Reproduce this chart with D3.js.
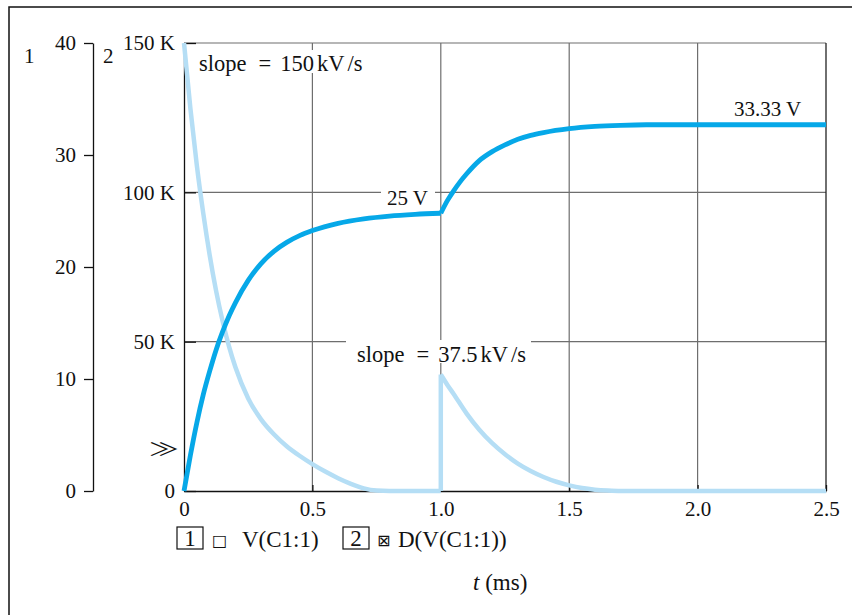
<!DOCTYPE html>
<html>
<head>
<meta charset="utf-8">
<script src="https://cdn.jsdelivr.net/npm/d3@7"></script>
<style>
  body { margin: 0; background: #fff; }
  svg { display: block; }
  text { font-family: "Liberation Serif", "Times New Roman", serif; fill: #111; }
</style>
</head>
<body>
<div id="chart"></div>
<script>
// time axis (ms) and tick labels
var timeTicks = [0, 0.5, 1.0, 1.5, 2.0, 2.5];
var timeLabels = ['0', '0.5', '1.0', '1.5', '2.0', '2.5'];

// axis 1 : V(C1:1), volts
var voltTicks = [0, 10, 20, 30, 40];
// axis 2 : D(V(C1:1)), kV/s
var slopeTicks = [0, 50, 100, 150];
var slopeLabels = ['0', '50 K', '100 K', '150 K'];

// V(C1:1) - charging up to 25 V, then to 33.33 V after the 1 ms step
var vTime1 = [0, 0.025, 0.05, 0.075, 0.1, 0.125, 0.15, 0.175, 0.2, 0.25, 0.3, 0.35, 0.4, 0.45, 0.5, 0.6, 0.7, 0.8, 0.9, 1.0];
var vVolts1 = [0, 3.2, 6.1, 8.6, 10.7, 12.6, 14.2, 15.6, 16.8, 18.8, 20.3, 21.4, 22.2, 22.8, 23.25, 23.9, 24.3, 24.55, 24.7, 24.8];
var vTime2 = [1.0, 1.025, 1.05, 1.075, 1.1, 1.15, 1.2, 1.25, 1.3, 1.35, 1.4, 1.5, 1.6, 1.7, 1.8, 2.0, 2.5];
var vVolts2 = [24.8, 25.9, 26.8, 27.6, 28.3, 29.5, 30.3, 30.9, 31.4, 31.75, 32.0, 32.35, 32.55, 32.65, 32.7, 32.7, 32.7];

// D(V(C1:1)) - slope, kV/s
var dTime1 = [0, 0.025, 0.05, 0.075, 0.1, 0.125, 0.15, 0.175, 0.2, 0.25, 0.3, 0.35, 0.4, 0.45, 0.5, 0.55, 0.6, 0.65, 0.7, 0.75, 0.8, 1.0];
var dSlope1 = [150, 128, 109, 93, 79, 67, 57, 48.5, 41.5, 31, 24, 19, 15, 11.8, 9.0, 6.5, 4.3, 2.4, 0.9, 0.15, 0, 0];
var dTime2 = [1.0, 1.0, 1.025, 1.05, 1.1, 1.15, 1.2, 1.25, 1.3, 1.35, 1.4, 1.45, 1.5, 1.55, 1.6, 1.65, 1.7, 2.5];
var dSlope2 = [0, 39, 35.6, 32.5, 26, 20.5, 16, 12.3, 9.2, 6.7, 4.7, 3.1, 1.9, 1.0, 0.45, 0.15, 0, 0];

var width = 852, height = 615;
var plot = { left: 184, right: 826, top: 43, bottom: 491 };

var svg = d3.select('#chart').append('svg')
  .attr('width', width)
  .attr('height', height);

var x = d3.scaleLinear().domain([0, 2.5]).range([plot.left, plot.right]);
var y1 = d3.scaleLinear().domain([0, 40]).range([plot.bottom, plot.top]);
var y2 = d3.scaleLinear().domain([0, 150]).range([plot.bottom, plot.top]);

// outer frame (left and top only, figure is cropped)
svg.append('path')
  .attr('d', 'M9,' + height + ' V7 H' + width)
  .attr('fill', 'none')
  .attr('stroke', '#111')
  .attr('stroke-width', 1.5);

// grid
var grid = svg.append('g').attr('stroke', '#6e6e6e').attr('stroke-width', 1.2);
grid.selectAll('.vgrid')
  .data(timeTicks.slice(1, -1))
  .enter().append('line')
  .attr('x1', function(d) { return x(d); })
  .attr('x2', function(d) { return x(d); })
  .attr('y1', plot.top)
  .attr('y2', plot.bottom);
grid.selectAll('.hgrid')
  .data(slopeTicks.slice(1, -1))
  .enter().append('line')
  .attr('x1', plot.left)
  .attr('x2', plot.right)
  .attr('y1', function(d) { return y2(d); })
  .attr('y2', function(d) { return y2(d); });
grid.append('line')
  .attr('x1', plot.left).attr('x2', plot.right)
  .attr('y1', plot.top).attr('y2', plot.top);
svg.append('line')
  .attr('x1', plot.right).attr('x2', plot.right)
  .attr('y1', plot.top).attr('y2', plot.bottom)
  .attr('stroke', '#222').attr('stroke-width', 1.3);

function styleAxis(g) {
  g.attr('font-family', null).attr('font-size', null);
  g.selectAll('path.domain').attr('stroke', '#111').attr('stroke-width', 1.3);
  g.selectAll('.tick line').attr('stroke', '#111').attr('stroke-width', 1.3);
  g.selectAll('.tick text').style('font-size', '21px');
}

// axis 1 (volts)
svg.append('g')
  .attr('transform', 'translate(93,0)')
  .call(d3.axisLeft(y1).tickValues(voltTicks).tickSizeInner(9).tickSizeOuter(0).tickPadding(8))
  .call(styleAxis);

// axis 2 (kV/s), ticks point into the plot
svg.append('g')
  .attr('transform', 'translate(' + plot.left + ',0)')
  .call(d3.axisLeft(y2).tickValues(slopeTicks).tickSizeInner(-12).tickSizeOuter(0).tickPadding(9)
    .tickFormat(function(d, i) { return slopeLabels[i]; }))
  .call(styleAxis);

// time axis
svg.append('g')
  .attr('transform', 'translate(0,' + plot.bottom + ')')
  .call(d3.axisBottom(x).tickValues(timeTicks).tickSizeInner(-6).tickSizeOuter(0).tickPadding(10)
    .tickFormat(function(d, i) { return timeLabels[i]; }))
  .call(styleAxis);

// axis numbers
svg.append('text').attr('x', 24).attr('y', 63).style('font-size', '21px').text('1');
svg.append('text').attr('x', 103).attr('y', 63).style('font-size', '21px').text('2');

var lineV = d3.line()
  .x(function(d) { return x(d[0]); })
  .y(function(d) { return y1(d[1]); })
  .curve(d3.curveMonotoneX);
var lineD = d3.line()
  .x(function(d) { return x(d[0]); })
  .y(function(d) { return y2(d[1]); })
  .curve(d3.curveMonotoneX);

function pairs(a, b) { return a.map(function(t, i) { return [t, b[i]]; }); }

var lightBlue = '#b5def5', darkBlue = '#06a8e8';

// derivative trace
var dPts2 = pairs(dTime2, dSlope2);
[pairs(dTime1, dSlope1), dPts2.slice(1)].forEach(function(pts) {
  svg.append('path')
    .attr('d', lineD(pts))
    .attr('fill', 'none')
    .attr('stroke', lightBlue)
    .attr('stroke-width', 4.5);
});
// the jump at 1 ms is a straight vertical line
svg.append('path')
  .attr('d', lineD.curve(d3.curveLinear)(dPts2.slice(0, 2)))
  .attr('fill', 'none')
  .attr('stroke', lightBlue)
  .attr('stroke-width', 4.5);

// voltage trace
[pairs(vTime1, vVolts1), pairs(vTime2, vVolts2)].forEach(function(pts) {
  svg.append('path')
    .attr('d', lineV(pts))
    .attr('fill', 'none')
    .attr('stroke', darkBlue)
    .attr('stroke-width', 4.8)
    .attr('stroke-linejoin', 'round');
});

// annotations (white boxes knock out the grid behind them)
function note(parts, px, py, size, box) {
  if (box) {
    svg.append('rect')
      .attr('x', box[0]).attr('y', box[1])
      .attr('width', box[2]).attr('height', box[3])
      .attr('fill', '#fff');
  }
  var t = svg.append('text').attr('x', px).attr('y', py).style('font-size', size + 'px');
  parts.forEach(function(p) {
    t.append('tspan').attr('dx', p[1]).text(p[0]);
  });
}

note([['slope', 0], ['=', 12], ['150', 9], ['kV', 3], ['/s', 3]], 199, 71, 22.5, [191, 50, 178, 23]);
note([['25 V', 0]], 387, 205, 21, [381, 185, 54, 22]);
note([['33.33 V', 0]], 734, 116, 21, null);
note([['slope', 0], ['=', 12], ['37.5', 9], ['kV', 3], ['/s', 3]], 357, 362, 22.5, [346, 340, 185, 23]);

// break marker on axis 2 (flattened a bit, as in the print)
svg.append('text')
  .attr('transform', 'translate(149,456) scale(1.15,0.7)')
  .style('font-family', '"Noto Sans CJK JP", "DejaVu Sans", sans-serif')
  .style('font-size', '26px')
  .text('\u226B');

// legend
var legend = svg.append('g');
[[177, '1', 212, '\u25A1', 242, 'V(C1:1)'], [343, '2', 377, '\u22A0', 398, 'D(V(C1:1))']].forEach(function(it) {
  legend.append('rect')
    .attr('x', it[0]).attr('y', 527).attr('width', 26).attr('height', 22)
    .attr('fill', 'none').attr('stroke', '#111').attr('stroke-width', 1.2);
  legend.append('text')
    .attr('x', it[0] + 13).attr('y', 546).attr('text-anchor', 'middle')
    .style('font-size', '23px').text(it[1]);
  legend.append('text')
    .attr('x', it[2]).attr('y', 546)
    .style('font-family', '"DejaVu Sans", sans-serif')
    .style('font-size', '16px').text(it[3]);
  legend.append('text')
    .attr('x', it[4]).attr('y', 547)
    .style('font-size', '23px').text(it[5]);
});

// x-axis title
var xt = svg.append('text').attr('x', 473).attr('y', 590).style('font-size', '23px');
xt.append('tspan').style('font-style', 'italic').text('t');
xt.append('tspan').text(' (ms)');
</script>
</body>
</html>
